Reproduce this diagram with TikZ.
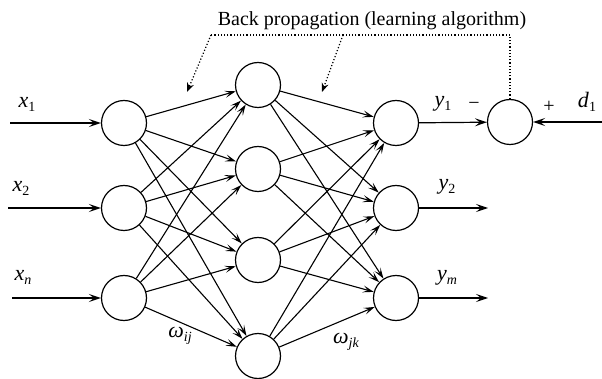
\documentclass[tikz,border=0pt]{standalone}
\usepackage{fontspec}
\setmainfont{Liberation Serif}
\usetikzlibrary{arrows.meta}
\newcommand\vlab[2]{\textit{#1}\raisebox{-0.4ex}{\fontsize{14}{14}\selectfont #2}}
\begin{document}
\begin{tikzpicture}[x=1pt,y=-1pt,
  neuron/.style={circle,draw,line width=1.2pt,minimum size=45pt,inner sep=0pt},
  conn/.style={line width=1.1pt,-{Stealth[length=11pt,width=7pt,inset=5pt]}},
  inarrow/.style={line width=1.7pt,-{Stealth[length=12pt,width=8pt,inset=5pt]}},
  outarrow/.style={line width=1.2pt,-{Stealth[length=12pt,width=8pt,inset=5pt]}},
  bp/.style={dotted,line width=1.2pt},
  bparrow/.style={dotted,line width=1.2pt,-{Stealth[length=9pt,width=7pt]}},
  title/.style={font=\fontsize{20}{24}\selectfont,inner sep=0pt},
  lab/.style={font=\fontsize{22}{26}\selectfont,inner sep=0pt},
  sign/.style={font=\fontsize{20}{24}\selectfont,inner sep=0pt}]
\useasboundingbox (0,0) rectangle (602,379);
% nodes
\node[neuron] (i1) at (124,123) {};
\node[neuron] (i2) at (124,208) {};
\node[neuron] (i3) at (124,298) {};
\node[neuron] (h1) at (258,85) {};
\node[neuron] (h2) at (258,169) {};
\node[neuron] (h3) at (258,260) {};
\node[neuron] (h4) at (258,356) {};
\node[neuron] (o1) at (396,123) {};
\node[neuron] (o2) at (396,208) {};
\node[neuron] (o3) at (396,298) {};
\node[neuron] (e) at (510,122) {};
% free ends
\coordinate (s1) at (10,123);
\coordinate (s2) at (8,208);
\coordinate (s3) at (12,298);
\coordinate (t2) at (488,208);
\coordinate (t3) at (488,298);
\coordinate (d) at (602,122);
\coordinate (bpr) at (510,35);
\coordinate (bpl) at (211,35);
\coordinate (bpm) at (343,35);
\coordinate (bpa) at (187,92);
\coordinate (bpb) at (322,92);
% input arrows
\draw[inarrow] (s1) -- (i1);
\draw[inarrow] (s2) -- (i2);
\draw[inarrow] (s3) -- (i3);
% connections
\foreach \a in {i1,i2,i3}{\foreach \b in {h1,h2,h3,h4}{\draw[conn] (\a) -- (\b);}}
\foreach \a in {h1,h2,h3,h4}{\foreach \b in {o1,o2,o3}{\draw[conn] (\a) -- (\b);}}
% outputs
\draw[outarrow] (o1) -- (e);
\draw[outarrow] (o2) -- (t2);
\draw[outarrow] (o3) -- (t3);
\draw[inarrow] (d) -- (e);
% back propagation
\draw[bp] (e.north) -- (bpr) -- (bpl);
\draw[bparrow] (bpl) -- (bpa);
\draw[bparrow] (bpm) -- (bpb);
\node[title,anchor=base] (bptext) at (372,26) {Back propagation (learning algorithm)};
% labels
\node[lab] (lx1) at (27,104) {\vlab{x}{1}};
\node[lab] (lx2) at (21,188) {\vlab{x}{2}};
\node[lab] (lxn) at (23,277) {\vlab{x}{\textit{n}}};
\node[lab] (ly1) at (443,104) {\vlab{y}{1}};
\node[lab] (ly2) at (447,187) {\vlab{y}{2}};
\node[lab] (lym) at (447,278) {\vlab{y}{\textit{m}}};
\node[lab] (ld1) at (587,102) {\vlab{d}{1}};
\node[sign] (minus) at (474,106) {−};
\node[sign] (plus) at (549,107) {+};
\node[lab] (wij) at (180,336) {\vlab{ω}{\textit{ij}}};
\node[lab] (wjk) at (346,342) {\vlab{ω}{\textit{jk}}};
\end{tikzpicture}
\end{document}
